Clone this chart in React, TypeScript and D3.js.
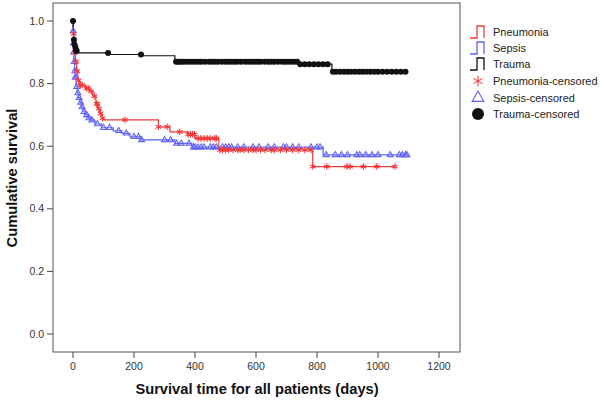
import React from "react";
import * as d3 from "d3";

// Kaplan-Meier step points: [day, survival after that day]
const pneumoniaSteps: [number, number][] = [
  [0, 1.0], [1, 0.96], [3, 0.93], [5, 0.9], [8, 0.87], [12, 0.84], [16, 0.81],
  [22, 0.795], [40, 0.785], [55, 0.775], [65, 0.76], [75, 0.735], [82, 0.72],
  [88, 0.705], [95, 0.69], [100, 0.684], [280, 0.662], [318, 0.646],
  [375, 0.638], [400, 0.625], [478, 0.588], [786, 0.535]
];
const pneumoniaEnd = 1056;
const pneumoniaCensored = [
  2, 6, 10, 14, 18, 25, 30, 45, 50, 60, 70, 78, 80, 85, 90, 97, 170, 280, 309,
  350, 378, 385, 392, 398, 410, 420, 430, 440, 450, 465, 470, 482, 490, 500,
  510, 525, 540, 548, 560, 575, 590, 600, 615, 630, 650, 660, 680, 700, 720,
  740, 760, 780, 786, 832, 898, 908, 952, 996, 1056
];

const sepsisSteps: [number, number][] = [
  [0, 0.968], [1, 0.93], [2, 0.9], [3, 0.87], [5, 0.84], [7, 0.82], [10, 0.79],
  [14, 0.77], [18, 0.755], [23, 0.74], [28, 0.725], [33, 0.71], [39, 0.7],
  [50, 0.69], [56, 0.683], [72, 0.671], [94, 0.659], [132, 0.649],
  [160, 0.641], [187, 0.63], [220, 0.62], [334, 0.609], [390, 0.597],
  [820, 0.572]
];
const sepsisEnd = 1095;
const sepsisCensored = [
  0.5, 1.5, 2.5, 4, 6, 8, 9, 12, 16, 20, 25, 30, 36, 45, 52, 62, 80, 100, 120,
  150, 175, 200, 215, 225, 300, 320, 340, 355, 380, 395, 400, 410, 420, 430,
  450, 460, 470, 490, 500, 510, 520, 540, 560, 590, 610, 640, 660, 690, 700,
  720, 740, 780, 800, 810, 830, 860, 880, 900, 930, 940, 960, 980, 1000, 1040,
  1070, 1080, 1090, 1095
];

const traumaSteps: [number, number][] = [
  [0, 1.0], [1, 0.97], [2, 0.94], [4, 0.925], [6, 0.915], [9, 0.905],
  [14, 0.898], [120, 0.893], [225, 0.889], [334, 0.87], [738, 0.862],
  [849, 0.838]
];
const traumaEnd = 1090;
const traumaCensored = [
  0, 3, 5, 8, 10, 12, 115, 223, 338, 345, 352, 360, 370, 380, 390, 400, 410,
  420, 432, 445, 455, 465, 475, 488, 500, 510, 520, 530, 540, 552, 565, 575,
  585, 595, 605, 615, 628, 640, 650, 660, 672, 685, 695, 705, 715, 725, 735,
  745, 760, 775, 790, 805, 820, 835, 852, 862, 875, 888, 900, 912, 925, 938,
  950, 962, 975, 988, 1000, 1015, 1030, 1045, 1060, 1075, 1090
];

const xTicks = [0, 200, 400, 600, 800, 1000, 1200];
const yTicks = [0, 0.2, 0.4, 0.6, 0.8, 1.0];
const legendLabels = [
  "Pneumonia", "Sepsis", "Trauma",
  "Pneumonia-censored", "Sepsis-censored", "Trauma-censored"
];

const RED = "#f23a3a";
const BLUE = "#6262f5";
const BLACK = "#111";
const FONT = "'Liberation Sans', Arial, sans-serif";

const W = 600;
const H = 403;
const frame = { left: 53, top: 3, right: 460, bottom: 352 };

const x = d3.scaleLinear().domain([0, 1200]).range([73, 439]);
const y = d3.scaleLinear().domain([0, 1]).range([334, 21]);

const bisect = d3.bisector((d: [number, number]) => d[0]).right;
function survivalAt(steps: [number, number][], t: number) {
  const i = Math.max(0, bisect(steps, t) - 1);
  return steps[i][1];
}

const stepLine = d3
  .line<[number, number]>()
  .x(d => x(d[0]))
  .y(d => y(d[1]))
  .curve(d3.curveStepAfter);

function curvePath(steps: [number, number][], end: number) {
  const pts: [number, number][] = [[0, 1], ...steps, [end, steps[steps.length - 1][1]]];
  return stepLine(pts) || "";
}

const starPath = d3.symbol().type(d3.symbolAsterisk).size(30)() || "";
const triPath = d3.symbol().type(d3.symbolTriangle).size(15)() || "";

function Star({ cx, cy, s = 1 }: { cx: number; cy: number; s?: number }) {
  return (
    <path d={starPath} transform={`translate(${cx},${cy}) scale(${s})`}
      fill="none" stroke={RED} strokeWidth={1.1 / s} />
  );
}
function Tri({ cx, cy, s = 1 }: { cx: number; cy: number; s?: number }) {
  return (
    <path d={triPath} transform={`translate(${cx},${cy}) scale(${s})`}
      fill="none" stroke={BLUE} strokeWidth={1.1 / s} />
  );
}

export default function App() {
  const groups = [
    { steps: sepsisSteps, end: sepsisEnd, color: BLUE },
    { steps: pneumoniaSteps, end: pneumoniaEnd, color: RED },
    { steps: traumaSteps, end: traumaEnd, color: BLACK }
  ];

  const legendY = [32, 48, 64, 81, 98, 114];
  const legendColors = [RED, BLUE, BLACK];

  return (
    <svg width={W} height={H} style={{ position: "absolute", left: 0, top: 0 }}
      fontFamily={FONT}>
      <rect width={W} height={H} fill="white" />
      {/* frame */}
      <rect x={frame.left} y={frame.top} width={frame.right - frame.left}
        height={frame.bottom - frame.top} fill="none" stroke="#555" strokeWidth={1} />

      {/* y axis */}
      {yTicks.map(t => (
        <g key={`y${t}`}>
          <line x1={frame.left - 6} x2={frame.left} y1={y(t)} y2={y(t)} stroke="#444" />
          <text x={frame.left - 9} y={y(t)} dy="0.35em" textAnchor="end"
            fontSize={10.5} fill="#333">{d3.format(".1f")(t)}</text>
        </g>
      ))}
      {/* x axis */}
      {xTicks.map(t => (
        <g key={`x${t}`}>
          <line x1={x(t)} x2={x(t)} y1={frame.bottom} y2={frame.bottom + 6} stroke="#444" />
          <text x={x(t)} y={frame.bottom + 18} textAnchor="middle"
            fontSize={10.5} fill="#333">{t}</text>
        </g>
      ))}

      <text x={257} y={394} textAnchor="middle" fontSize={14.7} fontWeight="bold"
        fill="#111">Survival time for all patients (days)</text>
      <text transform={`translate(17,178) rotate(-90)`} textAnchor="middle"
        fontSize={14.7} fontWeight="bold" fill="#111">Cumulative survival</text>

      {/* survival curves */}
      {groups.map((g, i) => (
        <path key={i} d={curvePath(g.steps, g.end)} fill="none"
          stroke={g.color} strokeWidth={1.2} />
      ))}

      {/* censor marks */}
      {sepsisCensored.map((t, i) => (
        <Tri key={`s${i}`} cx={x(t)} cy={y(survivalAt(sepsisSteps, t))} />
      ))}
      {pneumoniaCensored.map((t, i) => (
        <Star key={`p${i}`} cx={x(t)} cy={y(survivalAt(pneumoniaSteps, t))} />
      ))}
      {traumaCensored.map((t, i) => (
        <circle key={`t${i}`} cx={x(t)} cy={y(survivalAt(traumaSteps, t))}
          r={3} fill={BLACK} />
      ))}

      {/* legend */}
      {legendLabels.map((label, i) => {
        const ly = legendY[i];
        return (
          <g key={label}>
            {i < 3 && (
              <path d={`M470,${ly + 6}H477V${ly - 6}H484V${ly + 6}`} fill="none"
                stroke={legendColors[i]} strokeWidth={1.3} />
            )}
            {i === 3 && <Star cx={478} cy={ly} s={1.6} />}
            {i === 4 && <Tri cx={478} cy={ly} s={2} />}
            {i === 5 && <circle cx={478} cy={ly} r={6} fill={BLACK} />}
            <text x={493} y={ly} dy="0.35em" fontSize={11} fill="#222">{label}</text>
          </g>
        );
      })}
    </svg>
  );
}
